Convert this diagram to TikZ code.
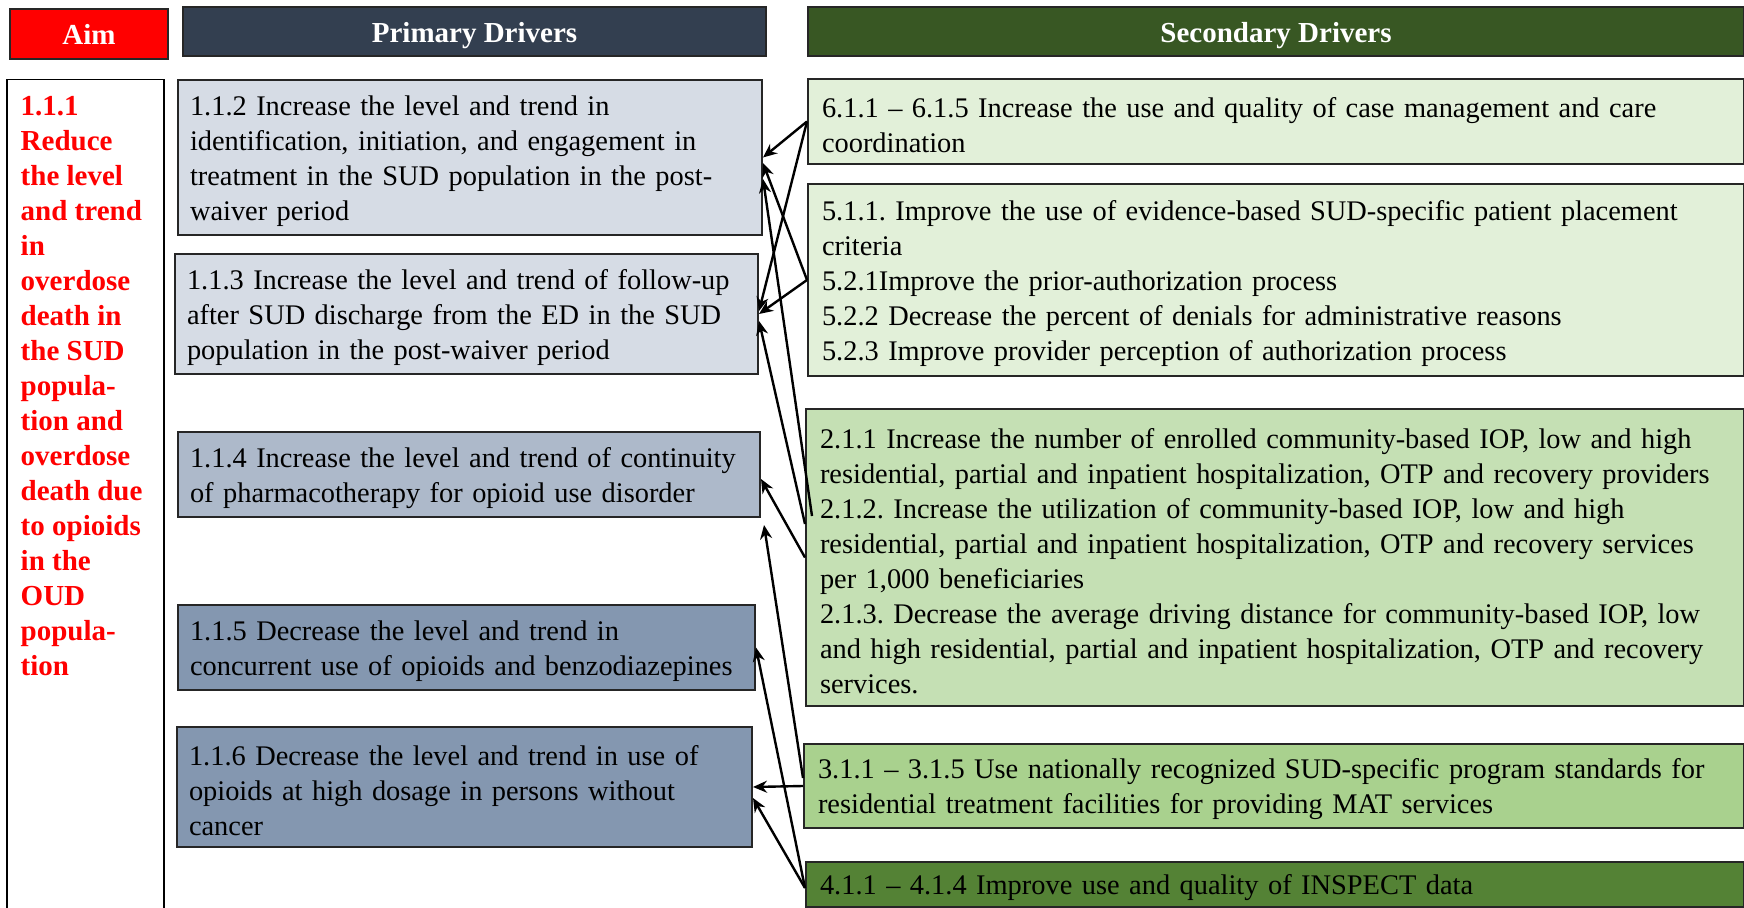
\documentclass[tikz,border=0pt]{standalone}
\usepackage{fontspec}
\setmainfont{Liberation Serif}
\usetikzlibrary{arrows.meta}
\definecolor{aimred}{HTML}{FF0000}
\definecolor{navyhdr}{HTML}{333F50}
\definecolor{greenhdr}{HTML}{385723}
\definecolor{pri1}{HTML}{D6DCE5}
\definecolor{pri2}{HTML}{ADB9CA}
\definecolor{pri3}{HTML}{8497B0}
\definecolor{sec1}{HTML}{E2F0D9}
\definecolor{sec2}{HTML}{C5E0B4}
\definecolor{sec3}{HTML}{A9D18E}
\definecolor{sec4}{HTML}{548235}
\definecolor{boxline}{HTML}{262626}
\newcommand{\hdrfont}{\fontsize{14.5}{17.5}\selectfont\bfseries}
\newcommand{\drvfont}{\fontsize{14.2}{17.5}\selectfont\frenchspacing}
\tikzset{hdr/.style = {draw = boxline, line width = 1pt, anchor = north west, inner sep = 0, text height = 11pt, text depth = 0pt, text = white, font = \hdrfont}}
\tikzset{drv/.style = {draw = boxline, line width = 1pt, anchor = north west, inner xsep = 6pt, inner ysep = 0, align = left, font = \drvfont, execute at begin node = {\rule{0pt}{13.4pt}}}}
\tikzset{feed/.style = {-{Stealth[length = 7pt, width = 6pt]}, line width = 1.2pt}}

\begin{document}
\begin{tikzpicture}[x = 0.5pt, y = -0.5pt]
\useasboundingbox (0,0) rectangle (1744,908);
\node[hdr, fill = aimred, minimum width = 79pt, minimum height = 25pt] (aimhdr) at (9,8) {Aim};
\node[hdr, fill = navyhdr, minimum width = 291.5pt, minimum height = 24.5pt] (prihdr) at (182,6) {Primary Drivers};
\node[hdr, fill = greenhdr, minimum width = 468pt, minimum height = 24.5pt] (sechdr) at (807,6) {Secondary Drivers};
\node[draw, line width = 0.75pt, anchor = north west, inner xsep = 7pt, inner ysep = 5.75pt, text = aimred, font = \hdrfont] (aim) at (6,79) {\parbox[t][410pt][t]{64.5pt}{\raggedright\strut 1.1.1\\Reduce\\the level\\and trend\\in\\overdose\\death in\\the SUD\\popula-\\tion and\\overdose\\death due\\to opioids\\in the\\OUD\\popula-\\tion}};
\node[drv, fill = pri1, minimum width = 292pt, minimum height = 77.5pt, text width = 280pt] (p2) at (177,79) {1.1.2 Increase the level and trend in\\identification, initiation, and engagement in\\treatment in the SUD population in the post-\\waiver period};
\node[drv, fill = pri1, minimum width = 291.5pt, minimum height = 60pt, text width = 279.5pt] (p3) at (174,253) {1.1.3 Increase the level and trend of follow-up\\after SUD discharge from the ED in the SUD\\population in the post-waiver period};
\node[drv, fill = pri2, minimum width = 291pt, minimum height = 42.5pt, text width = 279pt] (p4) at (177,431) {1.1.4 Increase the level and trend of continuity\\of pharmacotherapy for opioid use disorder};
\node[drv, fill = pri3, minimum width = 288.5pt, minimum height = 42.5pt, text width = 276.5pt] (p5) at (177,604) {1.1.5 Decrease the level and trend in\\concurrent use of opioids and benzodiazepines};
\node[drv, fill = pri3, minimum width = 287.5pt, minimum height = 60pt, text width = 275.5pt] (p6) at (176,726) {1.1.6 Decrease the level and trend in use of\\opioids at high dosage in persons without\\cancer};
\node[drv, fill = sec1, inner xsep = 7pt, minimum width = 468pt, minimum height = 42.5pt, text width = 454pt] (s6) at (807,78) {6.1.1 -- 6.1.5 Increase the use and quality of case management and care\\coordination};
\node[drv, fill = sec1, inner xsep = 7pt, minimum width = 468pt, minimum height = 96pt, text width = 454pt] (s5) at (807,183) {5.1.1. Improve the use of evidence-based SUD-specific patient placement\\criteria\\5.2.1Improve the prior-authorization process\\5.2.2 Decrease the percent of denials for administrative reasons\\5.2.3 Improve provider perception of authorization process};
\node[drv, fill = sec2, inner xsep = 7pt, minimum width = 469pt, minimum height = 148.5pt, text width = 455pt] (s2) at (805,408) {2.1.1 Increase the number of enrolled community-based IOP, low and high\\residential, partial and inpatient hospitalization, OTP and recovery providers\\2.1.2. Increase the utilization of community-based IOP, low and high\\residential, partial and inpatient hospitalization, OTP and recovery services\\per 1,000 beneficiaries\\2.1.3. Decrease the average driving distance for community-based IOP, low\\and high residential, partial and inpatient hospitalization, OTP and recovery\\services.};
\node[drv, fill = sec3, inner xsep = 7pt, minimum width = 470pt, minimum height = 42pt, text width = 456pt] (s3) at (803,743) {3.1.1 -- 3.1.5 Use nationally recognized SUD-specific program standards for\\residential treatment facilities for providing MAT services};
\node[drv, fill = sec4, inner xsep = 7pt, minimum width = 469pt, minimum height = 22.5pt, text width = 455pt] (s4) at (805,861) {4.1.1 -- 4.1.4 Improve use and quality of INSPECT data};
\draw[feed] (s6.west) -- (p2.east);
\draw[feed] (s6.west) -- ([yshift = 1.5pt]p3.east);
\draw[feed] (s5.west) -- ([yshift = -2.75pt]p2.east);
\draw[feed] (s5.west) -- (p3.east);
\draw[feed] ([xshift = 3.5pt, yshift = 20.75pt]s2.west) -- ([yshift = -10.75pt]p2.east);
\draw[feed] ([yshift = 16.75pt]s2.west) -- ([yshift = -3.5pt]p3.east);
\draw[feed] (s2.west) -- ([yshift = -2.25pt]p4.east);
\draw[feed] ([yshift = 4pt]s3.west) -- ([xshift = 1.5pt, yshift = -3.5pt]p4.south east);
\draw[feed] (s3.west) -- (p6.east);
\draw[feed] ([yshift = -1.75pt]s4.west) -- (p5.east);
\draw[feed] ([yshift = -1.75pt]s4.west) -- ([yshift = -5.5pt]p6.east);
\end{tikzpicture}
\end{document}
